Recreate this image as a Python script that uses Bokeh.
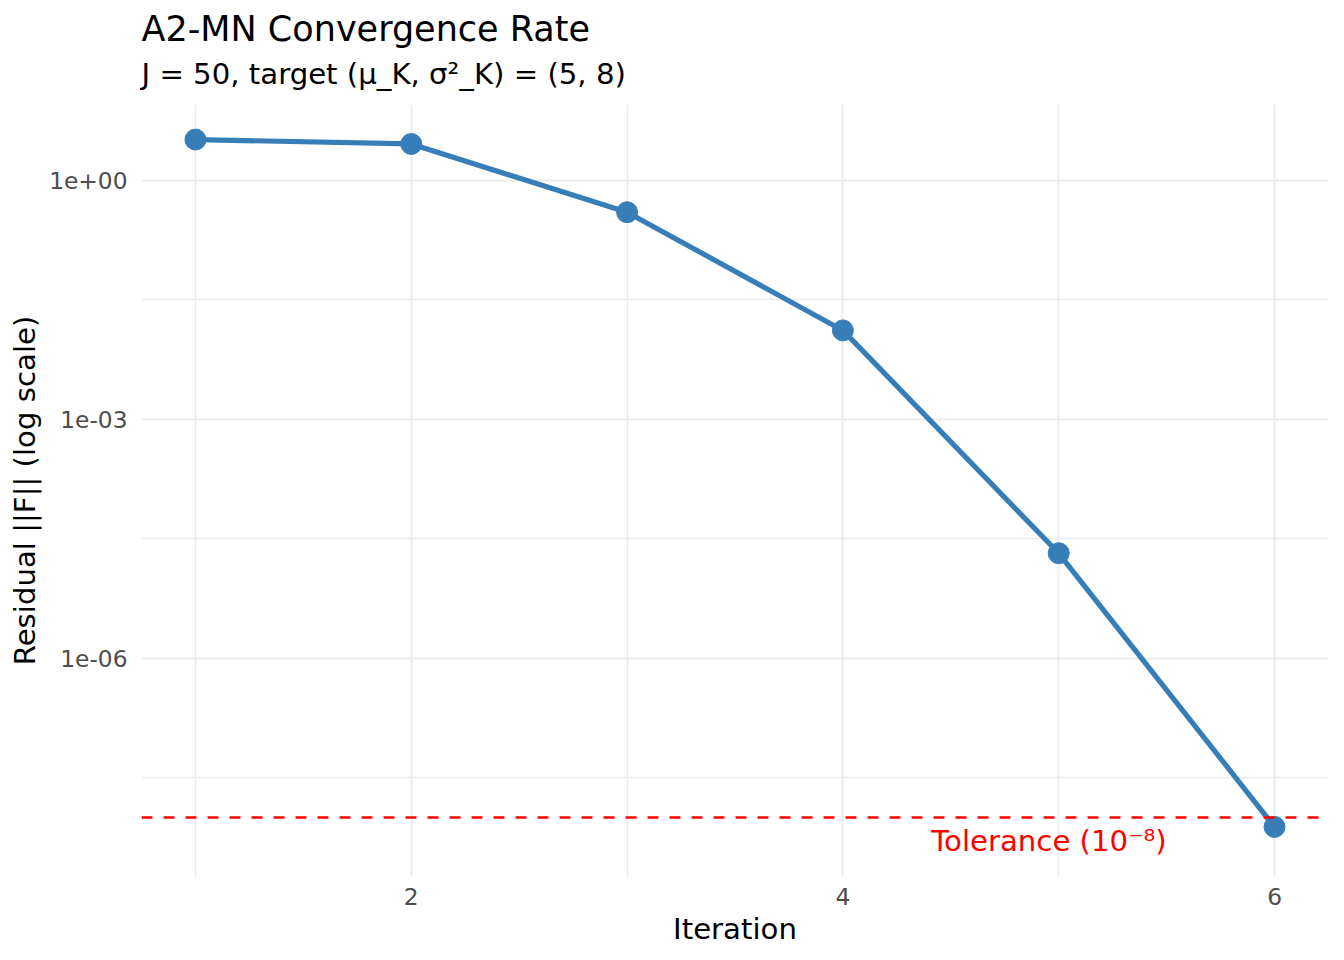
from bokeh.plotting import figure
from bokeh.models import Range1d, FixedTicker, CustomJSTickFormatter, Span, Title
from bokeh.core.properties import value
from bokeh.embed import file_html
from bokeh.resources import INLINE

# ---- data ----
iteration = [1, 2, 3, 4, 5, 6]
residual = [3.27, 2.88, 0.40, 0.0131, 2.08e-5, 7.6e-9]
tolerance = 1e-8
tol_label = ["Tolerance (10\u207b\u2078)"]
tol_label_x = [5.5]
tol_label_y = [5e-9]
x_major = [2, 4, 6]
x_minor = [1, 3, 5]
y_major = [1.0, 1e-3, 1e-6]
y_minor = [10 ** -1.5, 10 ** -4.5, 10 ** -7.5]

title_text = "A2-MN Convergence Rate"
subtitle_text = "J = 50, target (\u03bc_K, \u03c3\u00b2_K) = (5, 8)"
x_label = "Iteration"
y_label = "Residual ||F|| (log scale)"

FONT = "DejaVu Sans"
BLUE = "#377EB8"

W, H = 1340, 956
p = figure(
    width=W, height=H,
    y_axis_type="log",
    x_range=Range1d(0.75, 6.25),
    y_range=Range1d(10 ** -8.742, 10 ** 0.955),
    output_backend="svg", toolbar_location=None,
    min_border_left=141, min_border_right=W - 1328,
    min_border_top=104, min_border_bottom=H - 876,
)
p.outline_line_color = None
p.background_fill_color = "white"

# titles (subtitle first = closest to plot)
p.title = None
sub = Title(text=subtitle_text, align="left", text_font_size="29.2px",
            text_font=FONT, text_font_style="normal", text_color="black", standoff=28)
ttl = Title(text=title_text, align="left", text_font_size="35px",
            text_font=FONT, text_font_style="normal", text_color="black", standoff=-16)
p.add_layout(sub, "above")
p.add_layout(ttl, "above")

# tickers
xt = FixedTicker(ticks=x_major, minor_ticks=x_minor)
yt = FixedTicker(ticks=y_major, minor_ticks=y_minor)
p.xaxis.ticker = xt
p.xgrid.ticker = xt
p.yaxis.ticker = yt
p.ygrid.ticker = yt
p.yaxis.formatter = CustomJSTickFormatter(code="""
const e = Math.round(Math.log10(tick));
const s = e < 0 ? "-" : "+";
const a = Math.abs(e);
return "1e" + s + (a < 10 ? "0" : "") + a;
""")

for g in (p.xgrid, p.ygrid):
    g.grid_line_color = "#EBEBEB"
    g.grid_line_width = 2
    g.minor_grid_line_color = "#EBEBEB"
    g.minor_grid_line_width = 1.5

for ax in (p.xaxis, p.yaxis):
    ax.axis_line_color = None
    ax.major_tick_line_color = None
    ax.minor_tick_line_color = None
    ax.major_tick_out = 0
    ax.major_tick_in = 0
    ax.minor_tick_out = 0
    ax.minor_tick_in = 0
    ax.major_label_text_font = FONT
    ax.major_label_text_font_size = "23.3px"
    ax.major_label_text_color = "#4D4D4D"
    ax.axis_label_text_font = FONT
    ax.axis_label_text_font_size = "29.2px"
    ax.axis_label_text_font_style = "normal"
    ax.axis_label_text_color = "black"

p.xaxis.axis_label = x_label
p.yaxis.axis_label = y_label
p.xaxis.major_label_standoff = 11
p.xaxis.axis_label_standoff = 4
p.yaxis.major_label_standoff = 14
p.yaxis.axis_label_standoff = 4

# tolerance line
p.add_layout(Span(location=tolerance, dimension="width", line_color="red",
                  line_dash="11 11", line_width=2.5))

# series
p.line(iteration, residual, line_color=BLUE, line_width=5.2)
p.scatter(iteration, residual, size=21, fill_color=BLUE, line_color=BLUE)

p.text(x=tol_label_x, y=tol_label_y, text=tol_label, text_align="right",
       text_baseline="middle", text_color="red", text_font_size="29.2px",
       text_font=value(FONT))

open("out.html", "w").write(file_html(p, INLINE))
